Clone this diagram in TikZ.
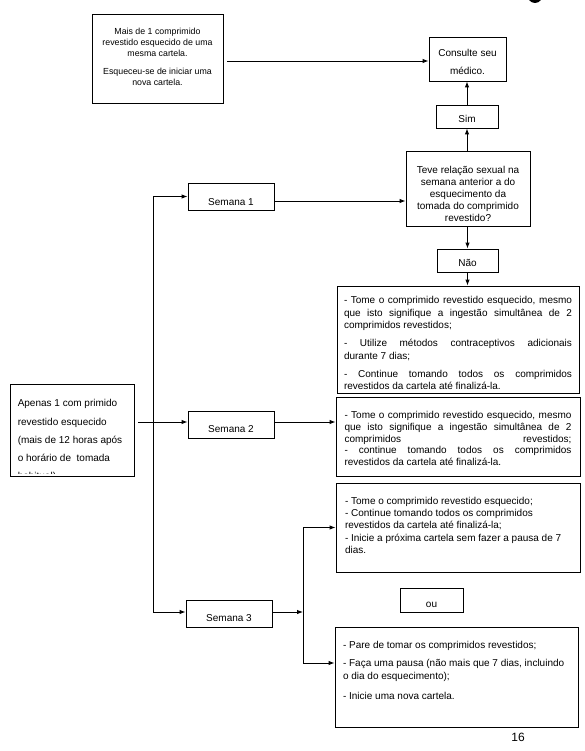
\documentclass[tikz,border=0pt]{standalone}
\usepackage{fontspec}
\setmainfont{Liberation Sans}
\usetikzlibrary{arrows.meta,calc}
\hyphenpenalty=10000
\exhyphenpenalty=10000
\begin{document}
\begin{tikzpicture}[x=1pt,y=-1pt,
  box/.style={draw=black, line width=0.9pt, rectangle, inner sep=0pt, fill=white},
  arr/.style={-{Latex[length=6pt,width=4.5pt]}, line width=0.9pt},
  dbl/.style={{Latex[length=6pt,width=4.5pt]}-{Latex[length=6pt,width=4.5pt]}, line width=0.9pt},
  f10/.style={font=\fontsize{10}{12}\selectfont},
  one/.style={box, f10, text depth=0pt}
]
\useasboundingbox (0,0) rectangle (585,751);
\fill (535,-6) ellipse (8pt and 9pt);

% top-left box
\node[box, inner xsep=8pt] (box1) at (157.5,58.5) {\begin{minipage}[c][89pt][t]{115pt}\centering\fontsize{8.8}{10.8}\selectfont
\rule{0pt}{21pt}Mais de 1 comprimido\\revestido esquecido de uma\\mesma cartela.\par\vspace{7.2pt}
Esqueceu-se de iniciar uma\\nova cartela.\end{minipage}};

\node[box, inner xsep=4pt] (cons) at (467.5,59) {\begin{minipage}[c][44pt][t]{69pt}\centering\fontsize{10}{18}\selectfont
\rule{0pt}{19.5pt}Consulte seu\\médico.\end{minipage}};

\node[one, minimum width=62pt, minimum height=23pt, text height=12pt] (sim) at (467,116.5) {Sim};

\node[box, inner xsep=4pt] (q) at (468,188.5) {\begin{minipage}[c][75pt][t]{116pt}\centering\fontsize{10}{12}\selectfont
\rule{0pt}{22.5pt}Teve relação sexual na\\semana anterior a do\\esquecimento da\\tomada do comprimido\\revestido?\end{minipage}};

\node[one, minimum width=61pt, minimum height=23pt, text height=12pt] (nao) at (467.5,260.5) {Não};

\node[box, inner xsep=7pt] (w1) at (458,339.5) {\begin{minipage}[c][107pt][t]{228pt}\fontsize{10}{12.5}\selectfont
\rule{0pt}{17.5pt}- Tome o comprimido revestido esquecido, mesmo\linebreak que isto signifique a ingestão simultânea de 2\linebreak comprimidos revestidos;\par\vspace{5.5pt}
- Utilize métodos contraceptivos adicionais\linebreak durante 7 dias;\par\vspace{5.5pt}
- Continue tomando todos os comprimidos\linebreak revestidos da cartela até finalizá-la.\end{minipage}};

\node[box, inner xsep=8.5pt] (w2) at (458,436.5) {\begin{minipage}[c][79pt][t]{227pt}\fontsize{10}{11.8}\selectfont
\rule{0pt}{21.5pt}- Tome o comprimido revestido esquecido, mesmo\linebreak que isto signifique a ingestão simultânea de 2\linebreak comprimidos revestidos;\linebreak - continue tomando todos os comprimidos\linebreak revestidos da cartela até finalizá-la.\end{minipage}};

\node[box, inner xsep=9pt] (w3a) at (458,527.5) {\begin{minipage}[c][89pt][t]{226pt}\raggedright\fontsize{10}{12.2}\selectfont
\rule{0pt}{21.5pt}- Tome o comprimido revestido esquecido;\\- Continue tomando todos os comprimidos\\revestidos da cartela até finalizá-la;\\- Inicie a próxima cartela sem fazer a pausa de 7\\dias.\end{minipage}};

\node[one, minimum width=63pt, minimum height=24pt, text height=15pt] (ou) at (431.5,600) {ou};

\node[box, inner xsep=8pt] (w3b) at (456.5,677) {\begin{minipage}[c][100pt][t]{227pt}\raggedright\fontsize{10}{13}\selectfont
\rule{0pt}{21.5pt}- Pare de tomar os comprimidos revestidos;\par\vspace{5pt}
- Faça uma pausa (não mais que 7 dias, incluindo\\o dia do esquecimento);\par\vspace{7pt}
- Inicie uma nova cartela.\end{minipage}};

\node[one, minimum width=86pt, minimum height=27pt, text height=17pt] (sem1) at (231,196.5) {Semana 1};
\node[one, minimum width=86pt, minimum height=27pt, text height=15pt] (sem2) at (231,424.5) {Semana 2};
\node[one, minimum width=86pt, minimum height=27pt, text height=15pt] (sem3) at (229,613.5) {Semana 3};

% left box with clipped text
\node[box, minimum width=124pt, minimum height=92pt] (apenas) at (72,430) {};
\begin{scope}
\clip ([xshift=1pt]apenas.north west) rectangle ([yshift=3pt]apenas.south east);
\node[anchor=north west, inner sep=0pt] (apenastext) at ([xshift=8pt]apenas.north west) {\begin{minipage}[t]{112pt}\raggedright\fontsize{10}{18.3}\selectfont
\rule{0pt}{23pt}Apenas 1 com primido\\revestido esquecido\\(mais de 12 horas após\\o horário de\ \ tomada\\habitual)\end{minipage}};
\end{scope}

\node[font=\fontsize{12}{14}\selectfont, inner sep=0pt] (pg) at (518,737) {16};

% connectors
\coordinate (trunk) at (153,0);
\coordinate (branch) at (303,0);
\draw[arr, shorten <=4pt] ([yshift=-2.5pt]box1.east) -- ([yshift=-2pt]cons.west);
\draw[arr] (sim.north) -- (sim.north |- cons.south);
\draw[arr] (sim.south |- q.north) -- (sim.south);
\draw[arr] (nao.north |- q.south) -- (nao.north);
\draw[arr] (nao.south) -- (nao.south |- w1.north);
\draw[arr] ([yshift=-4.5pt]sem1.east) coordinate (s1o) -- (s1o -| q.west);
\draw[dbl] (sem1.west) -- (sem1.west -| trunk) -- ([yshift=1.5pt]sem3.west -| trunk) -- ([yshift=1.5pt]sem3.west);
\draw[arr, shorten <=4pt] ([yshift=2.5pt]sem2.west -| apenas.east) -- ([yshift=2.5pt]sem2.west);
\draw[arr] ([yshift=2.5pt]sem2.east) coordinate (s2o) -- (s2o -| w2.west);
\draw[arr] ([yshift=1.5pt]sem3.east) coordinate (s3o) -- (s3o -| branch);
\draw[dbl] (w3a.west) -- (w3a.west -| branch) -- ([yshift=14pt]w3b.west -| branch) -- ([yshift=14pt]w3b.west);
\end{tikzpicture}
\end{document}
